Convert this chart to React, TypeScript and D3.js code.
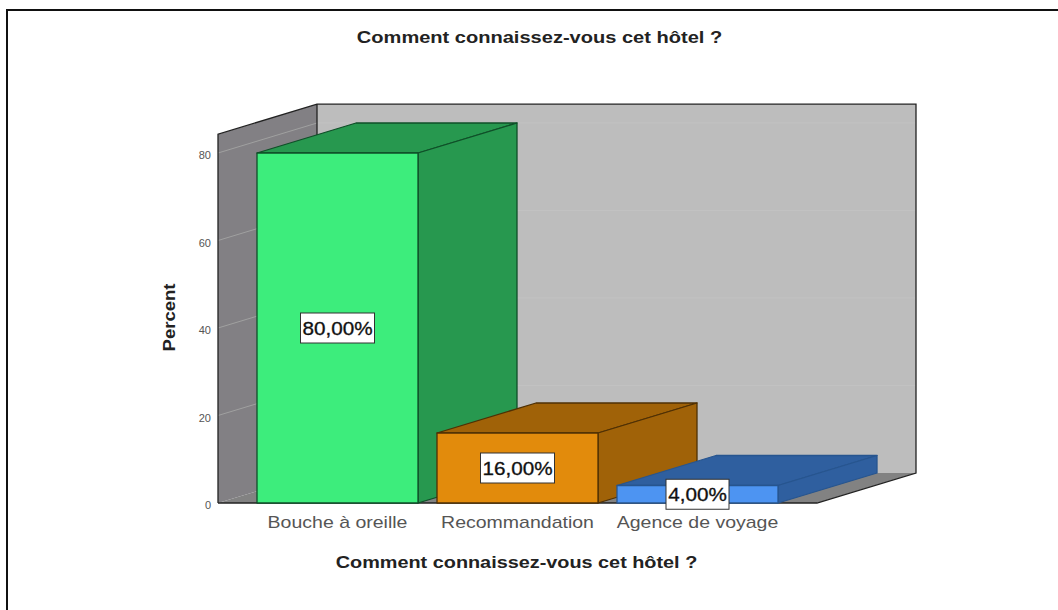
import React from "react";
import * as d3 from "d3";

const categories = ["Bouche à oreille", "Recommandation", "Agence de voyage"];
const percents = [80, 16, 4];
const valueLabels = ["80,00%", "16,00%", "4,00%"];
const yTicks = [0, 20, 40, 60, 80];
const frontColors = ["#3ded7c", "#e28b0c", "#4d94f2"];
const sideColors = ["#27984f", "#a06208", "#2f5f9f"];
const edgeColors = ["#0f4f28", "#4f3004", "#27558f"];

const title = "Comment connaissez-vous cet hôtel ?";
const yTitle = "Percent";

const WIDTH = 1058;
const HEIGHT = 610;
// Oblique projection of the chart box: depth shifts right and up.
const DX = 99;
const DY = -30;
const FRONT_LEFT = 218;
const FRONT_RIGHT = 817;
const FONT = "'Liberation Sans', Arial, sans-serif";

const y = d3.scaleLinear().domain([0, 80]).range([503, 153]);
const x = d3.scaleBand<string>().domain(categories).range([257, 778]).paddingInner(19 / 180).paddingOuter(0);
const yTop = y(84.3);

const poly = (pts: [number, number][]) => (d3.line()(pts) as string) + "Z";

// Horizontally widened label, anchored on its centre.
function Wide(props: { x: number; y: number; sx: number; size: number; bold?: boolean; fill: string; children: string; rotate?: boolean }) {
  const { x: px, y: py, sx, size, bold, fill, children, rotate } = props;
  return (
    <text
      transform={`translate(${px},${py})${rotate ? " rotate(-90)" : ""} scale(${sx},1)`}
      textAnchor="middle"
      fontFamily={FONT}
      fontWeight={bold ? 700 : 400}
      fontSize={size}
      fill={fill}
    >{children}</text>
  );
}

export default function App() {
  const y0 = y(0);
  const backLeft = FRONT_LEFT + DX;
  const backRight = FRONT_RIGHT + DX;
  const backTop = yTop + DY;
  const backBottom = y0 + DY;
  return (
    <svg
      width={WIDTH}
      height={HEIGHT}
      viewBox={`0 0 ${WIDTH} ${HEIGHT}`}
      style={{ position: "absolute", left: 0, top: 0, display: "block", background: "#fff" }}
    >
      {/* outer frame */}
      <path d={`M${WIDTH},10 H7 V${HEIGHT}`} fill="none" stroke="#111" strokeWidth={2} />

      <Wide x={539.5} y={43} sx={1.18} size={17} bold fill="#222">{title}</Wide>

      {/* back wall, floor and left wall fills */}
      <path d={poly([[backLeft, backTop], [backRight, backTop], [backRight, backBottom], [backLeft, backBottom]])} fill="#bdbdbd" />
      <path d={poly([[FRONT_LEFT, y0], [FRONT_RIGHT, y0], [backRight, backBottom], [backLeft, backBottom]])} fill="#828282" />
      <path d={poly([[FRONT_LEFT, yTop], [backLeft, backTop], [backLeft, backBottom], [FRONT_LEFT, y0]])} fill="#828084" />

      {/* gridlines across the walls */}
      {yTicks.slice(1).map((t) => (
        <g key={t} fill="none" strokeWidth={1}>
          <path d={`M${FRONT_LEFT},${y(t)} L${backLeft},${y(t) + DY}`} stroke="#a0a0a0" />
          <path d={`M${backLeft},${y(t) + DY} H${backRight}`} stroke="#c2c2c2" />
        </g>
      ))}

      {/* box outline */}
      <path
        d={`M${FRONT_LEFT},${y0} V${yTop} L${backLeft},${backTop} H${backRight} V${backBottom} L${FRONT_RIGHT},${y0} H${FRONT_LEFT} M${backLeft},${backTop} V${backBottom}`}
        fill="none"
        stroke="#222"
        strokeWidth={1.3}
      />

      {/* y axis */}
      {yTicks.map((t) => (
        <text key={t} x={211} y={y(t) + 6} textAnchor="end" fontFamily={FONT} fontSize={11} fill="#555">{t}</text>
      ))}
      <Wide x={175} y={317.5} sx={1.09} size={17} bold rotate fill="#222">{yTitle}</Wide>

      {/* bars: top face, side face, front face */}
      {categories.map((c, i) => {
        const left = x(c) as number;
        const right = left + x.bandwidth();
        const top = y(percents[i]);
        return (
          <g key={c} stroke={edgeColors[i]} strokeWidth={1.3} strokeLinejoin="round">
            <path d={poly([[left, top], [right, top], [right + DX, top + DY], [left + DX, top + DY]])} fill={sideColors[i]} />
            <path d={poly([[right, top], [right + DX, top + DY], [right + DX, y0 + DY], [right, y0]])} fill={sideColors[i]} />
            <path d={poly([[left, top], [right, top], [right, y0], [left, y0]])} fill={frontColors[i]} />
          </g>
        );
      })}

      {/* category labels */}
      {categories.map((c) => (
        <Wide key={c} x={(x(c) as number) + x.bandwidth() / 2} y={528} sx={1.22} size={16} fill="#555">{c}</Wide>
      ))}
      <Wide x={516.5} y={568} sx={1.167} size={17} bold fill="#222">{title}</Wide>

      {/* value labels */}
      {categories.map((c, i) => {
        const cx = (x(c) as number) + x.bandwidth() / 2;
        const cy = (y(percents[i]) + y0) / 2;
        const w = valueLabels[i].length === 6 ? 74 : 63;
        return (
          <g key={c}>
            <rect x={cx - w / 2} y={cy - 15} width={w} height={30} fill="#fff" stroke="#333" strokeWidth={1} />
            <g stroke="#111" strokeWidth={0.3}>
              <Wide x={cx} y={cy + 6.5} sx={1.15} size={18} fill="#111">{valueLabels[i]}</Wide>
            </g>
          </g>
        );
      })}
    </svg>
  );
}
